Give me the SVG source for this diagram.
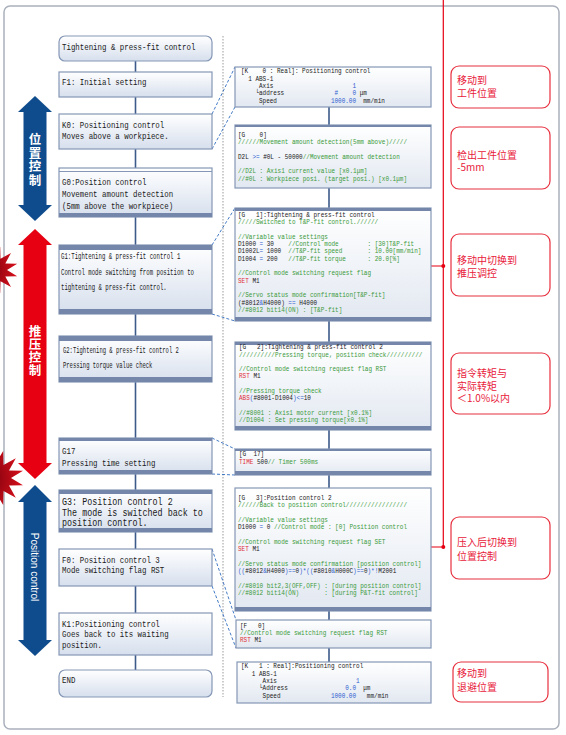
<svg xmlns="http://www.w3.org/2000/svg" width="566" height="735" viewBox="0 0 566 735">
<defs>
<linearGradient id="lg" x1="0" y1="0" x2="0" y2="1"><stop offset="0" stop-color="#ffffff"/><stop offset="1" stop-color="#d6dfed"/></linearGradient>
<linearGradient id="cg" x1="0" y1="0" x2="0" y2="1"><stop offset="0" stop-color="#ffffff"/><stop offset="1" stop-color="#e2e8f1"/></linearGradient>
<radialGradient id="sb" cx="0.25" cy="0.5" r="0.75"><stop offset="0" stop-color="#7a000c"/><stop offset="1" stop-color="#d8101c"/></radialGradient>
<marker id="rah" viewBox="0 0 11 8" refX="11" refY="4" markerWidth="11" markerHeight="8" markerUnits="userSpaceOnUse" orient="auto"><path d="M0,0 L11,4 L0,8 z" fill="#e60012"/></marker>
<style>
.lt{font-family:"Liberation Mono","DejaVu Sans Mono",monospace;font-size:9px;fill:#1a1a1a}
.ls{font-family:"Liberation Mono","DejaVu Sans Mono",monospace;font-size:8.5px;fill:#1a1a1a}
.lb{font-family:"Liberation Mono","DejaVu Sans Mono",monospace;font-size:10px;fill:#1a1a1a}
.ct{font-family:"Liberation Mono","DejaVu Sans Mono",monospace;font-size:7.5px;fill:#1a1a1a}
.g{fill:#3a9a3a}.r{fill:#e0303a}.b{fill:#2f5fd0}
.box{fill:url(#lg);stroke:#8597b6;stroke-width:1.2}
.cbox{fill:url(#cg);stroke:#8597b6;stroke-width:1.2}
.band{fill:#7487aa}
.link{stroke:#2f6cc0;stroke-width:.9;stroke-dasharray:3 2;fill:none}
.conn{stroke:#3d5a8a;stroke-width:1.6;fill:none}
.ann{fill:#fff;stroke:#e8303f;stroke-width:1.2}
.at{font-family:"Noto Sans CJK SC","Noto Sans CJK JP",sans-serif;font-size:10px;fill:#e8203a}
.vt{font-family:"Noto Sans CJK SC","Noto Sans CJK JP",sans-serif;font-size:12.5px;font-weight:bold;fill:#fff;text-anchor:middle}
</style>
</defs>

<rect x="4" y="6" width="555" height="723" rx="6" fill="#fff" stroke="#aab0bc" stroke-width="1.5"/>
<line x1="223" y1="36" x2="223" y2="697" stroke="#9a9a9a" stroke-width="1" stroke-dasharray="1.5 1.5"/>

<!-- starbursts -->
<g id="burst1"><polygon fill="url(#sb)" points="-20,270 -6,257 0.2,246.8 0.5,258.7 11,253 5.3,263.5 17.2,263.8 7,270 17.2,276.2 5.3,276.5 11,287 0.5,281.3 0.2,293.2 -6,283"/></g>
<g id="burst2"><polygon fill="url(#sb)" points="-22,478 -4,463 3.2,451 3.5,465 15.8,458.2 9,470.5 23,470.8 11,478 23,485.2 9,485.5 15.8,497.8 3.5,491 3.2,505 -4,493"/></g>

<!-- side arrows -->
<g id="arrow-pos1">
<polygon fill="#0f4c8d" points="35,96 52,112 46.5,112 46.5,205 52,205 35,221 18,205 23.5,205 23.5,112 18,112"/>
<text class="vt"><tspan x="35" y="144">位</tspan><tspan x="35" y="157.5">置</tspan><tspan x="35" y="171">控</tspan><tspan x="35" y="184.5">制</tspan></text>
</g>
<g id="arrow-press">
<polygon fill="#e60012" points="35,229 52,245 46.5,245 46.5,463 52,463 35,479 18,463 23.5,463 23.5,245 18,245"/>
<text class="vt"><tspan x="35" y="335.5">推</tspan><tspan x="35" y="348.5">压</tspan><tspan x="35" y="361.5">控</tspan><tspan x="35" y="374.5">制</tspan></text>
</g>
<g id="arrow-pos2">
<polygon fill="#0f4c8d" points="35,485 52,502 46.5,502 46.5,640 52,640 35,656 18,640 23.5,640 23.5,502 18,502"/>
<text transform="translate(30.5 567) rotate(90)" text-anchor="middle" font-family="Liberation Sans, Arial, sans-serif" font-size="10" fill="#fff">Position control</text>
</g>

<!-- connectors -->
<g id="connectors">
<line class="conn" x1="135.5" y1="61" x2="135.5" y2="670"/>
<line class="conn" x1="329" y1="107" x2="329" y2="662"/>
<line class="link" x1="212" y1="114" x2="235" y2="67"/>
<line class="link" x1="212" y1="149" x2="235" y2="107"/>
<line class="link" x1="212" y1="245" x2="235" y2="208"/>
<line class="link" x1="212" y1="314" x2="235" y2="321"/>
<line class="link" x1="212" y1="438" x2="235" y2="449"/>
<line class="link" x1="212" y1="474" x2="235" y2="475"/>
<line class="link" x1="212" y1="549" x2="236" y2="620"/>
<line class="link" x1="212" y1="586" x2="236" y2="648"/>
<line x1="443.3" y1="0" x2="443.3" y2="547" stroke="#e60012" stroke-width="1.2"/>
<line x1="443.3" y1="266" x2="410" y2="266" stroke="#e60012" stroke-width="1.2" marker-end="url(#rah)"/>
<line x1="443.3" y1="547" x2="410" y2="547" stroke="#e60012" stroke-width="1.2" marker-end="url(#rah)"/>
<circle cx="443.3" cy="266" r="2" fill="#e60012"/>
<circle cx="443.3" cy="547" r="2" fill="#e60012"/>
</g>

<!-- left flow nodes -->
<g id="n-start"><rect class="box" x="59" y="36" width="153" height="25" rx="6"/>
<text class="lt" transform="translate(62 49.5) scale(.824 1)">Tightening &amp; press-fit control</text></g>
<g id="n-F1"><rect class="box" x="59" y="72" width="153" height="25"/>
<text class="lt" transform="translate(62 84.5) scale(.824 1)">F1: Initial setting</text></g>
<g id="n-K0"><rect class="box" x="59" y="114" width="153" height="35"/>
<text class="lt" transform="translate(62 127.5) scale(.824 1)">K0: Positioning control</text>
<text class="lt" transform="translate(62 139) scale(.824 1)">Moves above a workpiece.</text></g>
<g id="n-G0"><rect class="box" x="59" y="168" width="153" height="49"/>
<line x1="59" y1="171.5" x2="212" y2="171.5" stroke="#8597b6" stroke-width="1"/>
<rect class="band" x="59" y="213" width="153" height="4"/>
<text class="lt" transform="translate(62 185) scale(.824 1)">G0:Position control</text>
<text class="lt" transform="translate(62 197) scale(.824 1)">Movement amount detection</text>
<text class="lt" transform="translate(62 208.5) scale(.824 1)">(5mm above the workpiece)</text></g>
<g id="n-G1"><rect class="box" x="59" y="245" width="153" height="69"/>
<rect class="band" x="59" y="245" width="153" height="5"/><rect class="band" x="59" y="309" width="153" height="5"/>
<text class="ls" transform="translate(61 259) scale(.67 1)">G1:Tightening &amp; press-fit control 1</text>
<text class="ls" transform="translate(61 275) scale(.67 1)">Control mode switching from position to</text>
<text class="ls" transform="translate(61 290) scale(.67 1)">tightening &amp; press-fit control.</text></g>
<g id="n-G2"><rect class="box" x="59" y="336" width="153" height="46"/>
<rect class="band" x="59" y="336" width="153" height="5"/><rect class="band" x="59" y="377" width="153" height="5"/>
<text class="ls" transform="translate(63 352.5) scale(.65 1)">G2:Tightening &amp; press-fit control 2</text>
<text class="ls" transform="translate(63 368) scale(.65 1)">Pressing torque value check</text></g>
<g id="n-G17"><rect class="box" x="59" y="438" width="153" height="36"/>
<rect class="band" x="59" y="438" width="153" height="3"/><rect class="band" x="59" y="470" width="153" height="4"/>
<text class="lt" transform="translate(62 454) scale(.824 1)">G17</text>
<text class="lt" transform="translate(62 466) scale(.824 1)">Pressing time setting</text></g>
<g id="n-G3"><rect class="box" x="59" y="490" width="153" height="42"/>
<rect class="band" x="59" y="490" width="153" height="4"/><rect class="band" x="59" y="528" width="153" height="4"/>
<text class="lb" transform="translate(62 505) scale(.84 1)">G3: Position control 2</text>
<text class="lb" transform="translate(62 515.5) scale(.84 1)">The mode is switched back to</text>
<text class="lb" transform="translate(62 525.5) scale(.84 1)">position control.</text></g>
<g id="n-F0"><rect class="box" x="59" y="549" width="153" height="37"/>
<text class="lt" transform="translate(62 562.5) scale(.824 1)">F0: Position control 3</text>
<text class="lt" transform="translate(62 572.5) scale(.824 1)">Mode switching flag RST</text></g>
<g id="n-K1"><rect class="box" x="59" y="613" width="153" height="42"/>
<text class="lt" transform="translate(62 626.5) scale(.824 1)">K1:Positioning control</text>
<text class="lt" transform="translate(62 637) scale(.824 1)">Goes back to its waiting</text>
<text class="lt" transform="translate(62 647.5) scale(.824 1)">position.</text></g>
<g id="n-end"><rect class="box" x="59" y="670" width="153" height="27" rx="6"/>
<text class="lt" transform="translate(62 683) scale(.824 1)">END</text></g>

<!-- code boxes -->
<g id="c-K0"><rect class="cbox" x="235" y="67" width="196" height="40"/>
<g transform="translate(241 0) scale(.8 1)">
<text class="ct" xml:space="preserve" y="73.3">[K    0 : Real]: Positioning control</text>
<text class="ct" xml:space="preserve" y="80.6">  1 ABS-1</text>
<text class="ct" xml:space="preserve" y="88">     Axis                      <tspan class="b">1</tspan></text>
<text class="ct" xml:space="preserve" y="95.3">    └address              <tspan class="b">#    0</tspan> μm</text>
<text class="ct" xml:space="preserve" y="102.6">     Speed               <tspan class="b">1000.00</tspan>  mm/min</text>
</g></g>

<g id="c-G0"><rect class="cbox" x="235" y="125" width="196" height="63"/><rect class="band" x="235" y="125" width="196" height="2"/>
<g transform="translate(238 0) scale(.8 1)">
<text class="ct" xml:space="preserve" y="136.7">[G    0]</text>
<text class="ct g" xml:space="preserve" y="144">//////Movement amount detection(5mm above)/////</text>
<text class="ct" xml:space="preserve" y="158.6">D2L <tspan class="b">&gt;=</tspan> #0L - 50000<tspan class="g">//Movement amount detection</tspan></text>
<text class="ct g" xml:space="preserve" y="173.3">//D2L : Axis1 current value [x0.1μm]</text>
<text class="ct g" xml:space="preserve" y="180.6">//#0L : Workpiece posi. (target posi.) [x0.1μm]</text>
</g></g>

<g id="c-G1"><rect class="cbox" x="235" y="208" width="196" height="113"/>
<rect class="band" x="235" y="208" width="196" height="3"/><rect class="band" x="235" y="317" width="196" height="4"/>
<g transform="translate(238 0) scale(.8 1)">
<text class="ct" xml:space="preserve" y="217">[G   1]:Tightening &amp; press-fit control</text>
<text class="ct g" xml:space="preserve" y="224.3">/////Switched to T&amp;P-fit control.//////</text>
<text class="ct g" xml:space="preserve" y="238.6">//Variable value settings</text>
<text class="ct" xml:space="preserve" y="246">D1000 <tspan class="b">=</tspan> 30    <tspan class="g">//Control mode        : [30]T&amp;P-fit</tspan></text>
<text class="ct" xml:space="preserve" y="253.3">D1002L<tspan class="b">=</tspan> 1000  <tspan class="g">//T&amp;P-fit speed       : 10.00[mm/min]</tspan></text>
<text class="ct" xml:space="preserve" y="260.6">D1004 <tspan class="b">=</tspan> 200   <tspan class="g">//T&amp;P-fit torque      : 20.0[%]</tspan></text>
<text class="ct g" xml:space="preserve" y="275.3">//Control mode switching request flag</text>
<text class="ct" xml:space="preserve" y="282.6"><tspan class="r">SET</tspan> M1</text>
<text class="ct g" xml:space="preserve" y="297.3">//Servo status mode confirmation[T&amp;P-fit]</text>
<text class="ct" xml:space="preserve" y="304.6">(#8012<tspan class="b">&amp;</tspan>H4000) <tspan class="b">==</tspan> H4000</text>
<text class="ct g" xml:space="preserve" y="312">//#8012 bit14(ON) : [T&amp;P-fit]</text>
</g></g>

<g id="c-G2"><rect class="cbox" x="235" y="342" width="196" height="88"/>
<rect class="band" x="235" y="342" width="196" height="3"/><rect class="band" x="235" y="426" width="196" height="4"/>
<g transform="translate(239 0) scale(.8 1)">
<text class="ct" xml:space="preserve" y="349.5">[G   2]:Tightening &amp; press-fit control 2</text>
<text class="ct g" xml:space="preserve" y="356.8">//////////Pressing torque, position check//////////</text>
<text class="ct g" xml:space="preserve" y="371">//Control mode switching request flag RST</text>
<text class="ct" xml:space="preserve" y="378.3"><tspan class="r">RST</tspan> M1</text>
<text class="ct g" xml:space="preserve" y="393">//Pressing torque check</text>
<text class="ct" xml:space="preserve" y="400.3"><tspan class="r">ABS</tspan><tspan class="b">(</tspan>#8001-D1004<tspan class="b">)&lt;=</tspan>10</text>
<text class="ct g" xml:space="preserve" y="415">//#8001 : Axis1 motor current [x0.1%]</text>
<text class="ct g" xml:space="preserve" y="422.3">//D1004 : Set pressing torque[x0.1%]</text>
</g></g>

<g id="c-G17"><rect class="cbox" x="235" y="449" width="196" height="26"/>
<rect class="band" x="235" y="449" width="196" height="2"/><rect class="band" x="235" y="471" width="196" height="4"/>
<g transform="translate(239 0) scale(.8 1)">
<text class="ct" xml:space="preserve" y="456.5">[G  17]</text>
<text class="ct" xml:space="preserve" y="463.8"><tspan class="r">TIME</tspan> 500<tspan class="g">// Timer 500ms</tspan></text>
</g></g>

<g id="c-G3"><rect class="cbox" x="235" y="488" width="196" height="123"/>
<rect class="band" x="235" y="607" width="196" height="4"/>
<g transform="translate(238 0) scale(.8 1)">
<text class="ct" xml:space="preserve" y="500">[G   3]:Position control 2</text>
<text class="ct g" xml:space="preserve" y="507.3">//////Back to position control/////////////////</text>
<text class="ct g" xml:space="preserve" y="521.9">//Variable value settings</text>
<text class="ct" xml:space="preserve" y="529.2">D1000 <tspan class="b">=</tspan> 0 <tspan class="g">//Control mode : [0] Position control</tspan></text>
<text class="ct g" xml:space="preserve" y="543.8">//Control mode switching request flag SET</text>
<text class="ct" xml:space="preserve" y="551.1"><tspan class="r">SET</tspan> M1</text>
<text class="ct g" xml:space="preserve" y="565.7">//Servo status mode confirmation [position control]</text>
<text class="ct" xml:space="preserve" y="573"><tspan class="b">((</tspan>#8012<tspan class="b">&amp;</tspan>H4000<tspan class="b">)==</tspan>0<tspan class="b">)*((</tspan>#8010<tspan class="b">&amp;</tspan>H000C<tspan class="b">)==</tspan>0<tspan class="b">)*!</tspan>M2001</text>
<text class="ct g" xml:space="preserve" y="587.6">//#8010 bit2,3(OFF,OFF) : [during position control]</text>
<text class="ct g" xml:space="preserve" y="595">//#8012 bit14(ON)       : [during P&amp;T-fit control]</text>
</g></g>

<g id="c-F0"><rect class="cbox" x="236" y="620" width="195" height="28"/>
<g transform="translate(240 0) scale(.8 1)">
<text class="ct" xml:space="preserve" y="627.7">[F   0]</text>
<text class="ct g" xml:space="preserve" y="635">//Control mode switching request flag RST</text>
<text class="ct" xml:space="preserve" y="642.3"><tspan class="r">RST</tspan> M1</text>
</g></g>

<g id="c-K1"><rect class="cbox" x="237" y="662" width="194" height="41"/>
<g transform="translate(241 0) scale(.8 1)">
<text class="ct" xml:space="preserve" y="668.5">[K   1 : Real]:Positioning control</text>
<text class="ct" xml:space="preserve" y="675.8">   1 ABS-1</text>
<text class="ct" xml:space="preserve" y="683.1">      Axis                      <tspan class="b">1</tspan></text>
<text class="ct" xml:space="preserve" y="690.4">     └Address                <tspan class="b">0.0</tspan>  μm</text>
<text class="ct" xml:space="preserve" y="697.7">      Speed              <tspan class="b">1000.00</tspan>   mm/min</text>
</g></g>

<!-- annotations -->
<g id="a1"><rect class="ann" x="451" y="66" width="99" height="42" rx="8"/>
<text class="at"><tspan x="457" y="83.5">移动到</tspan><tspan x="457" y="97">工件位置</tspan></text></g>
<g id="a2"><rect class="ann" x="451" y="127" width="99" height="62" rx="8"/>
<text class="at"><tspan x="457" y="158.5">检出工件位置</tspan><tspan x="457" y="171">-5mm</tspan></text></g>
<g id="a3"><rect class="ann" x="451" y="234" width="99" height="62" rx="8"/>
<text class="at"><tspan x="457" y="263.5">移动中切换到</tspan><tspan x="457" y="277">推压调控</tspan></text></g>
<g id="a4"><rect class="ann" x="451" y="353" width="99" height="61" rx="8"/>
<text class="at"><tspan x="457" y="377">指令转矩与</tspan><tspan x="457" y="389.5">实际转矩</tspan><tspan x="457" y="402">＜1.0%以内</tspan></text></g>
<g id="a5"><rect class="ann" x="451" y="517" width="99" height="62" rx="8"/>
<text class="at"><tspan x="457" y="546">压入后切换到</tspan><tspan x="457" y="559.5">位置控制</tspan></text></g>
<g id="a6"><rect class="ann" x="453" y="662" width="95" height="40" rx="8"/>
<text class="at"><tspan x="457" y="677">移动到</tspan><tspan x="457" y="691">退避位置</tspan></text></g>
</svg>
